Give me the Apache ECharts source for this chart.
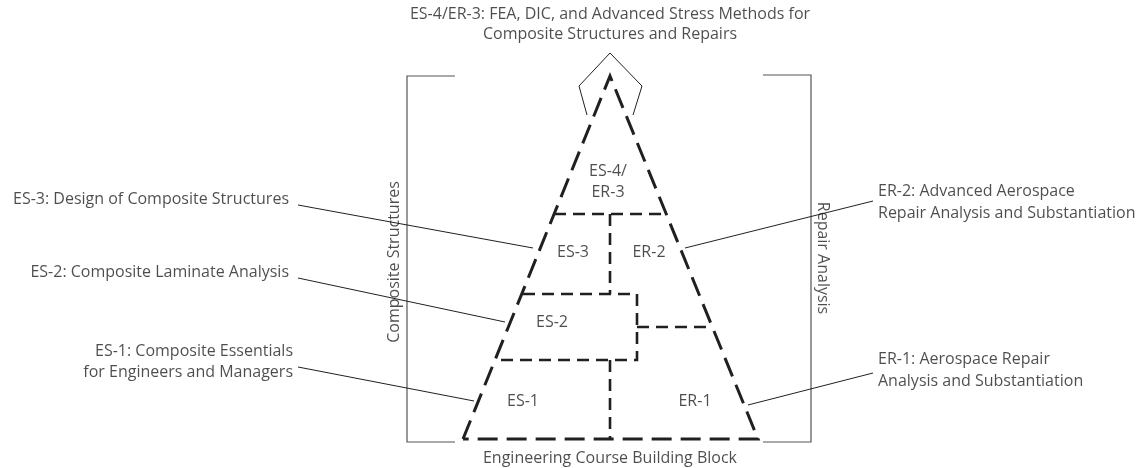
<!DOCTYPE html>
<html>
<head>
<meta charset="utf-8">
<style>
  html, body { margin: 0; padding: 0; background: #fff; }
  #chart { width: 1138px; height: 468px; }
</style>
<script src="https://cdn.jsdelivr.net/npm/echarts@6/dist/echarts.min.js"></script>
</head>
<body>
<div id="chart"></div>
<script>
// diagram geometry, in the page's own 0..1138 x 0..468 frame
const pyramidOutline = [[463, 439], [610, 76], [758, 439], [463, 439]]
const dividers = [
  [[554, 214], [666, 214]],
  [[610, 214], [610, 294]],
  [[523, 294], [637, 294], [637, 360], [497, 360]],
  [[637, 327], [712, 327]],
  [[610, 360], [610, 439]],
]
const apexMark = [[587, 115], [579, 86], [610, 53], [642, 86], [633, 115]]
const brackets = [
  [[455, 76], [407, 76], [407, 442], [455, 442]],
  [[763, 75], [811, 75], [811, 442], [763, 442]],
]
const leaders = [
  [[298, 205], [533, 248]],
  [[298, 278], [505, 322]],
  [[298, 367], [474, 401]],
  [[873, 201], [685, 248]],
  [[873, 373], [748, 405]],
]
const blockNames = ['ES-4/\nER-3', 'ES-3', 'ER-2', 'ES-2', 'ES-1', 'ER-1']
const blockPos = [[608, 182], [573, 252], [649, 252], [552, 322], [523, 401], [695, 401]]
const leftNotes = ['ES-3: Design of Composite Structures', 'ES-2: Composite Laminate Analysis', 'ES-1: Composite Essentials\nfor Engineers and Managers']
const leftNotePos = [[289, 199], [289, 272], [293, 362]]
const rightNotes = ['ER-2: Advanced Aerospace\nRepair Analysis and Substantiation', 'ER-1: Aerospace Repair\nAnalysis and Substantiation']
const rightNotePos = [[878, 202], [878, 370]]
const topTitle = 'ES-4/ER-3: FEA, DIC, and Advanced Stress Methods for\nComposite Structures and Repairs'
const bottomTitle = 'Engineering Course Building Block'
const sideTitles = ['Composite Structures', 'Repair Analysis']

const chart = echarts.init(document.getElementById('chart'))
const ink = '#231f20'
const font = {fontFamily: 'Open Sans', fontSize: 16, color: ink, lineHeight: 21}

function textItem(pos, text, align, extra) {
  return {
    value: pos,
    label: Object.assign({
      show: true, position: [0, 0], formatter: text,
      align: align, verticalAlign: 'middle',
    }, font, extra || {}),
  }
}

const texts = []
blockNames.forEach((t, i) => texts.push(textItem(blockPos[i], t, 'center')))
leftNotes.forEach((t, i) => texts.push(textItem(leftNotePos[i], t, 'right')))
rightNotes.forEach((t, i) => texts.push(textItem(rightNotePos[i], t, 'left', {lineHeight: 22})))
texts.push(textItem([610, 24], topTitle, 'center', {lineHeight: 20}))
texts.push(textItem([610, 458], bottomTitle, 'center'))
texts.push(textItem([394, 262], sideTitles[0], 'center', {rotate: 90}))
texts.push(textItem([823, 258], sideTitles[1], 'center', {rotate: -90}))

function poly(list) {
  return list.map(c => ({coords: c}))
}

chart.setOption({
  animation: false,
  grid: {left: 0, right: 0, top: 0, bottom: 0},
  xAxis: {type: 'value', min: 0, max: 1138, show: false},
  yAxis: {type: 'value', min: 0, max: 468, inverse: true, show: false},
  series: [
    {
      type: 'lines', coordinateSystem: 'cartesian2d', polyline: true, silent: true,
      data: poly(brackets),
      lineStyle: {color: '#555', width: 1.2, opacity: 1},
    },
    {
      type: 'lines', coordinateSystem: 'cartesian2d', polyline: true, silent: true,
      data: poly(leaders.concat([apexMark])),
      lineStyle: {color: ink, width: 1, opacity: 1},
    },
    {
      type: 'lines', coordinateSystem: 'cartesian2d', polyline: true, silent: true,
      data: poly([pyramidOutline]),
      lineStyle: {color: ink, width: 3, type: [20, 9], opacity: 1},
    },
    {
      type: 'lines', coordinateSystem: 'cartesian2d', polyline: true, silent: true,
      data: poly(dividers),
      lineStyle: {color: ink, width: 2.6, type: [12, 7], opacity: 1},
    },
    {
      type: 'scatter', silent: true, symbolSize: 0,
      itemStyle: {color: 'transparent'},
      data: texts,
    },
  ],
})
</script>
</body>
</html>
